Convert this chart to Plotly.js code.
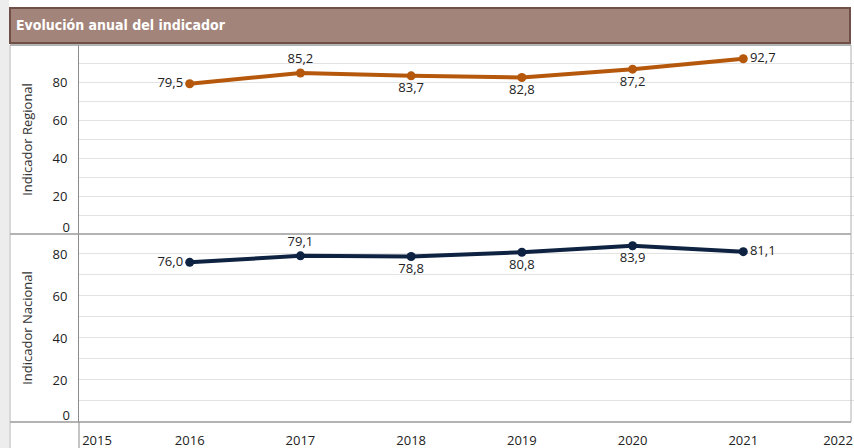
<!DOCTYPE html>
<html><head><meta charset="utf-8">
<script src="https://cdn.plot.ly/plotly-3.0.1.min.js"></script>
<style>html,body{margin:0;padding:0;background:#fff}#chart{width:854px;height:448px}</style>
</head><body><div id="chart"></div>
<script>
const years = [2016, 2017, 2018, 2019, 2020, 2021];
const regional = [79.5, 85.2, 83.7, 82.8, 87.2, 92.7];
const nacional = [76.0, 79.1, 78.8, 80.8, 83.9, 81.1];
const regionalLabelPos = ['middle left','top center','bottom center','bottom center','bottom center','middle right'];
const nacionalLabelPos = ['middle left','top center','bottom center','bottom center','bottom center','middle right'];
const xTicks = [2016, 2017, 2018, 2019, 2020, 2021];
const xFirstTick = [2015];
const xLastTick = [2022];
const yTicks = [20, 40, 60, 80];
const yZeroTick = [0];
const chartTitle = 'Evolución anual del indicador';
const titleRegional = 'Indicador Regional';
const titleNacional = 'Indicador Nacional';

const orange = '#b5580c';
const navy = '#0e2242';
const FONT = 'Open Sans, sans-serif';
const labelFont = {family: FONT, size: 13, color: '#222'};
const tickFont = {family: FONT, size: 13, color: '#222'};

const traces = [
  {x: years, y: regional, xaxis: 'x', yaxis: 'y', mode: 'lines+markers+text',
   line: {color: orange, width: 4}, marker: {color: orange, size: 9},
   texttemplate: '%{y:.1f}', textposition: regionalLabelPos, textfont: labelFont,
   cliponaxis: false, hoverinfo: 'skip'},
  {x: years, y: nacional, xaxis: 'x', yaxis: 'y2', mode: 'lines+markers+text',
   line: {color: navy, width: 4}, marker: {color: navy, size: 9},
   texttemplate: '%{y:.1f}', textposition: nacionalLabelPos, textfont: labelFont,
   cliponaxis: false, hoverinfo: 'skip'},
  // invisible companions so the overlaying label-only axes get drawn
  {x: years, y: regional, xaxis: 'x', yaxis: 'y3', mode: 'none', hoverinfo: 'skip'},
  {x: years, y: nacional, xaxis: 'x', yaxis: 'y4', mode: 'none', hoverinfo: 'skip'},
  {x: years, y: nacional, xaxis: 'x2', yaxis: 'y2', mode: 'none', hoverinfo: 'skip'},
  {x: years, y: nacional, xaxis: 'x3', yaxis: 'y2', mode: 'none', hoverinfo: 'skip'}
];

const L = 79, R = 854, T = 45, B = 422, MID = 234, H = 448;
const pw = R - L, ph = B - T;
const px = v => (v - L) / pw;
const py = v => (B - v) / ph;
const split = (B - MID) / ph;
const xRange = [2015, 2022];
const yRangeTop = [0, 100];
const yRangeBottom = [0, 89.5];

const yCommon = {
  tickvals: yTicks, ticks: '', ticklabelstandoff: 8, tickfont: tickFont,
  showgrid: true, gridcolor: '#e3e3e3', gridwidth: 1,
  minor: {dtick: 10, showgrid: true, gridcolor: '#e3e3e3', gridwidth: 1},
  showline: true, linecolor: '#8c8c8c', linewidth: 1,
  zeroline: false, fixedrange: true
};
const yZero = {
  tickvals: yZeroTick, ticks: '', ticklabelstandoff: 8, ticklabelshift: -7, tickfont: tickFont,
  showgrid: false, showline: false, zeroline: false, fixedrange: true, side: 'left'
};
const xCommon = {
  anchor: 'y2', range: xRange, ticks: '', ticklabelstandoff: 9, showgrid: false,
  zeroline: false, showline: false, tickfont: tickFont, fixedrange: true,
  ticklabeloverflow: 'allow'
};
const titleFont = {family: FONT, size: 13, color: '#333'};

const layout = {
  width: 854, height: 448,
  margin: {l: L, r: 854 - R, t: T, b: H - B},
  paper_bgcolor: '#ffffff', plot_bgcolor: '#ffffff',
  separators: ',.',
  showlegend: false,
  xaxis: Object.assign({}, xCommon, {tickvals: xTicks, ticktext: xTicks.map(String)}),
  xaxis2: Object.assign({}, xCommon, {overlaying: 'x', side: 'bottom', tickvals: xFirstTick,
    ticktext: xFirstTick.map(String), ticklabelshift: 18}),
  xaxis3: Object.assign({}, xCommon, {overlaying: 'x', side: 'bottom', tickvals: xLastTick,
    ticktext: xLastTick.map(String), ticklabelshift: -16}),
  yaxis: Object.assign({}, yCommon, {domain: [split, 1], range: yRangeTop,
    title: {text: titleRegional, standoff: 16, font: titleFont}}),
  yaxis2: Object.assign({}, yCommon, {domain: [0, split], range: yRangeBottom,
    title: {text: titleNacional, standoff: 16, font: titleFont}}),
  yaxis3: Object.assign({}, yZero, {overlaying: 'y', anchor: 'x', range: yRangeTop}),
  yaxis4: Object.assign({}, yZero, {overlaying: 'y2', anchor: 'x', range: yRangeBottom}),
  shapes: [
    {type: 'rect', xref: 'paper', yref: 'paper', x0: px(0), x1: px(9), y0: py(H), y1: py(0),
     fillcolor: '#ededed', line: {width: 0}, layer: 'below'},
    {type: 'rect', xref: 'paper', yref: 'paper', x0: px(10), x1: px(850), y0: py(43), y1: py(8),
     fillcolor: '#a3847a', line: {color: '#6f4f47', width: 2}},
    {type: 'line', xref: 'paper', yref: 'paper', x0: px(10), x1: px(851), y0: py(T), y1: py(T),
     line: {color: '#9a9a9a', width: 1.5}},
    {type: 'line', xref: 'paper', yref: 'paper', x0: px(10), x1: px(851), y0: py(MID), y1: py(MID),
     line: {color: '#9a9a9a', width: 1.5}},
    {type: 'line', xref: 'paper', yref: 'paper', x0: px(10), x1: px(851), y0: py(B), y1: py(B),
     line: {color: '#9a9a9a', width: 1.5}},
    {type: 'line', xref: 'paper', yref: 'paper', x0: px(10), x1: px(10), y0: py(T), y1: py(H),
     line: {color: '#b0b0b0', width: 1}},
    {type: 'line', xref: 'paper', yref: 'paper', x0: px(851), x1: px(851), y0: py(T), y1: py(B),
     line: {color: '#b0b0b0', width: 1}},
    {type: 'line', xref: 'paper', yref: 'paper', x0: 0, x1: 0, y0: py(B), y1: py(H),
     line: {color: '#8c8c8c', width: 1}}
  ],
  annotations: [
    {text: '<b>' + chartTitle + '</b>', xref: 'paper', yref: 'paper', x: px(14), y: py(25),
     xanchor: 'left', yanchor: 'middle', showarrow: false,
     font: {family: 'Liberation Sans Narrow, DejaVu Sans Condensed, Arial Narrow, sans-serif', size: 14, color: '#ffffff'}}
  ]
};

Plotly.newPlot('chart', traces, layout, {displayModeBar: false, staticPlot: true});
</script></body></html>
